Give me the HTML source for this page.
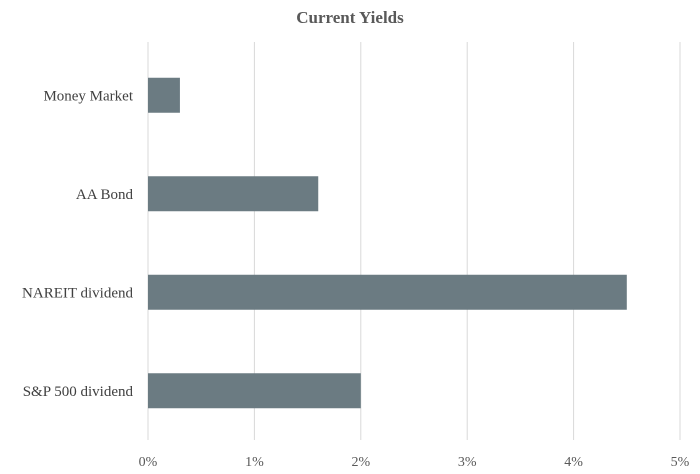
<!DOCTYPE html>
<html><head><meta charset="utf-8"><style>
html,body{margin:0;padding:0;background:#fff;}
svg{display:block;font-family:"Liberation Serif",serif;}
</style></head><body>
<svg id="chart" width="700" height="474">
<text x="350" y="23" text-anchor="middle" font-size="17" font-weight="bold" fill="#595959">Current Yields</text>
<g id="grid"></g><g id="bars"></g><g id="labels"></g><g id="ticks"></g>
</svg>
<script>
const categories = ["Money Market", "AA Bond", "NAREIT dividend", "S&P 500 dividend"];
const values = [0.3, 1.6, 4.5, 2.0];
const tickValues = [0, 1, 2, 3, 4, 5];
const tickLabels = ["0%", "1%", "2%", "3%", "4%", "5%"];
const NS = "http://www.w3.org/2000/svg";
const x0 = 148, x1 = 680, xMax = 5, yTop = 46, yBot = 440;
const xs = v => x0 + (v / xMax) * (x1 - x0);
const band = (yBot - yTop) / categories.length;
const yc = i => yTop + band * (i + 0.5);
const barH = 35;
function mk(tag, attrs, parent) { const e = document.createElementNS(NS, tag); for (const k in attrs) e.setAttribute(k, attrs[k]); document.getElementById(parent).appendChild(e); return e; }
tickValues.forEach((t, i) => {
  const l = mk("line", {x1: xs(t), x2: xs(t), y1: yTop - 4, y2: yBot, stroke: "#d9d9d9", "stroke-width": 1}, "grid");
  
  
  const tx = mk("text", {x: xs(t), y: 466, "text-anchor": "middle", "font-size": 14, fill: "#595959"}, "ticks");
  tx.textContent = tickLabels[i];
  
  
});
categories.forEach((c, i) => {
  const r = mk("rect", {x: xs(0), y: yc(i) - barH / 2, width: xs(values[i]) - xs(0), height: barH, fill: "#6b7b82"}, "bars");
  
  
  const tx = mk("text", {x: 133, y: yc(i) + 5, "text-anchor": "end", "font-size": 15, fill: "#404040"}, "labels");
  tx.textContent = c;
  
  
});
</script>
</body></html>
